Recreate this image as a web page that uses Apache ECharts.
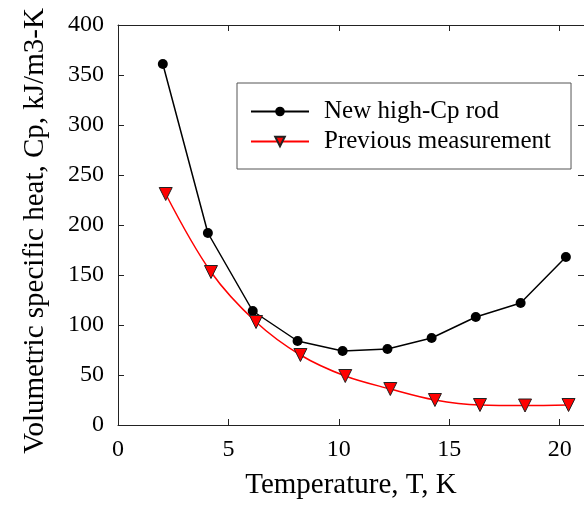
<!DOCTYPE html>
<html>
<head>
<meta charset="utf-8">
<script src="https://cdn.jsdelivr.net/npm/echarts@6/dist/echarts.min.js"></script>
<style>html,body{margin:0;padding:0;background:#fff;overflow:hidden}#c{width:584px;height:505px}</style>
</head>
<body>
<div id="c"></div>
<script>
const newT = [2.03, 4.07, 6.1, 8.13, 10.17, 12.2, 14.2, 16.2, 18.23, 20.28];
const newCp = [361, 192, 114, 84, 74, 76, 87, 108, 122, 168];
const prevT = [2.16, 4.21, 6.25, 8.26, 10.29, 12.33, 14.35, 16.39, 18.43, 20.4];
const prevCp = [231, 153, 103, 70, 49, 36, 25, 20, 19.5, 20];
const seriesNames = ['New high-Cp rod', 'Previous measurement'];
const xTitle = 'Temperature, T, K';
const yTitle = 'Volumetric specific heat, Cp, kJ/m3-K';

const font = 'Liberation Serif';
const axisCol = '#222';
const chart = echarts.init(document.getElementById('c'), null, {renderer: 'canvas'});
const pair = (xs, ys) => xs.map((x, i) => [x, ys[i]]);
const tickStyle = {show: true, inside: true, length: 6, lineStyle: {color: axisCol, width: 1}};
chart.setOption({
  animation: false,
  backgroundColor: '#fff',
  grid: {left: 118, top: 25, right: -3, bottom: 79},
  xAxis: [{
    type: 'value', min: 0, max: 21.1, interval: 5, position: 'bottom',
    axisLine: {show: true, onZero: false, lineStyle: {color: axisCol, width: 1}},
    axisTick: tickStyle,
    splitLine: {show: false},
    axisLabel: {color: '#000', fontFamily: font, fontSize: 24, margin: 13,
      showMaxLabel: false,
      formatter: v => (v % 5 === 0 ? String(v) : '')},
    name: xTitle, nameLocation: 'middle', nameGap: 46,
    nameTextStyle: {color: '#000', fontFamily: font, fontSize: 29}
  }, {
    type: 'value', min: 0, max: 21.1, interval: 5, position: 'top',
    axisLine: {show: true, onZero: false, lineStyle: {color: axisCol, width: 1}},
    axisTick: tickStyle, axisLabel: {show: false}, splitLine: {show: false}
  }],
  yAxis: [{
    type: 'value', min: 0, max: 400, interval: 50, position: 'left',
    axisLine: {show: true, onZero: false, lineStyle: {color: axisCol, width: 1}},
    axisTick: tickStyle,
    splitLine: {show: false},
    axisLabel: {color: '#000', fontFamily: font, fontSize: 24, margin: 14},
    name: yTitle, nameLocation: 'middle', nameGap: 68,
    nameTextStyle: {color: '#000', fontFamily: font, fontSize: 29, padding: [0, 12, 0, 0]}
  }, {
    type: 'value', min: 0, max: 400, interval: 50, position: 'right',
    axisLine: {show: true, onZero: false, lineStyle: {color: axisCol, width: 1}},
    axisTick: tickStyle, axisLabel: {show: false}, splitLine: {show: false}
  }],
  legend: {
    show: true, orient: 'vertical', left: 237, top: 83,
    borderColor: '#555', borderWidth: 1,
    padding: [16, 20, 15, 13],
    itemWidth: 58, itemHeight: 12, itemGap: 5,
    textStyle: {color: '#000', fontFamily: font, fontSize: 25, lineHeight: 25, padding: [0, 0, 0, 10]},
    data: seriesNames
  },
  series: [{
    name: seriesNames[0], type: 'line', xAxisIndex: 0, yAxisIndex: 0,
    data: pair(newT, newCp),
    symbol: 'circle', symbolSize: 10,
    lineStyle: {color: '#000', width: 1.5},
    itemStyle: {color: '#000'}
  }, {
    name: seriesNames[1], type: 'line', xAxisIndex: 0, yAxisIndex: 0,
    data: pair(prevT, prevCp), smooth: 0.35,
    symbol: 'triangle', symbolRotate: 180, symbolSize: 13,
    lineStyle: {color: '#ff0000', width: 1.5},
    itemStyle: {color: '#ff0000', borderColor: '#222', borderWidth: 1}
  }]
});
</script>
</body>
</html>
